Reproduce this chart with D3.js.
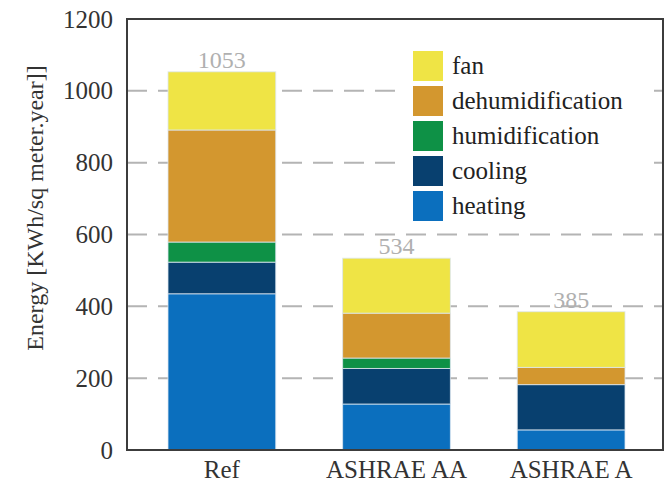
<!DOCTYPE html>
<html>
<head>
<meta charset="utf-8">
<script src="https://cdn.jsdelivr.net/npm/d3@7"></script>
<style>
  html, body { margin: 0; padding: 0; background: #fff; }
  svg text { font-family: "Liberation Serif", "Times New Roman", "DejaVu Serif", serif; }
</style>
</head>
<body>
<svg id="chart" width="672" height="488"></svg>
<script>
// ---- data ----
const categories = ["Ref", "ASHRAE AA", "ASHRAE A"];
const seriesNames = ["heating", "cooling", "humidification", "dehumidification", "fan"];
const heating = [435, 128, 56];
const cooling = [88, 99, 126];
const humidification = [56, 29, 0];
const dehumidification = [312, 125, 48];
const fan = [162, 153, 155];
const totals = [1053, 534, 385];
const yTicks = [0, 200, 400, 600, 800, 1000, 1200];
const legendOrder = ["fan", "dehumidification", "humidification", "cooling", "heating"];

const colors = {
  heating: "#0b6fbe",
  cooling: "#08406f",
  humidification: "#0e9146",
  dehumidification: "#d3972f",
  fan: "#efe445"
};

const seriesValues = { heating, cooling, humidification, dehumidification, fan };
const rows = categories.map((c, i) => {
  const r = { category: c };
  seriesNames.forEach(s => r[s] = seriesValues[s][i]);
  return r;
});

const FONT = "'Liberation Serif', 'Times New Roman', 'DejaVu Serif', serif";

// ---- layout ----
const svg = d3.select("#chart");
const plot = { left: 127, right: 663, top: 19, bottom: 450 };

const x = d3.scaleBand()
  .domain(categories)
  .range([168, 625])
  .paddingInner(0.383)
  .paddingOuter(0);

const y = d3.scaleLinear()
  .domain([0, 1200])
  .range([plot.bottom, plot.top]);

// gridlines
svg.append("g")
  .selectAll("line")
  .data(yTicks.filter(t => t > 0 && t < 1200))
  .join("line")
  .attr("x1", plot.left)
  .attr("x2", plot.right)
  .attr("y1", d => y(d))
  .attr("y2", d => y(d))
  .attr("stroke", "#b4b4b4")
  .attr("stroke-width", 2)
  .attr("stroke-dasharray", "20,11");

// stacked bars
const stack = d3.stack().keys(seriesNames)(rows);
svg.append("g")
  .selectAll("g")
  .data(stack)
  .join("g")
  .attr("fill", d => colors[d.key])
  .selectAll("rect")
  .data(d => d.filter(p => p[1] - p[0] > 0))
  .join("rect")
  .attr("x", d => x(d.data.category))
  .attr("width", x.bandwidth())
  .attr("y", d => y(d[1]))
  .attr("height", d => y(d[0]) - y(d[1]))
  .attr("stroke", "rgba(220,230,240,0.8)")
  .attr("stroke-width", 1);

// total labels
svg.append("g")
  .selectAll("text")
  .data(categories)
  .join("text")
  .attr("x", d => x(d) + x.bandwidth() / 2)
  .attr("y", (d, i) => y(totals[i]) - 4)
  .attr("text-anchor", "middle")
  .style("font-family", FONT)
  .attr("font-size", 24)
  .attr("fill", "#b0b0b0")
  .text((d, i) => totals[i]);

// frame
svg.append("rect")
  .attr("x", plot.left)
  .attr("y", plot.top)
  .attr("width", plot.right - plot.left)
  .attr("height", plot.bottom - plot.top)
  .attr("fill", "none")
  .attr("stroke", "#3c3c3c")
  .attr("stroke-width", 2);

// y axis labels
const yAxis = d3.axisLeft(y).tickValues(yTicks).tickFormat(d3.format("d")).tickSize(0).tickPadding(14);
const yg = svg.append("g").attr("transform", `translate(${plot.left},0)`).call(yAxis);
yg.attr("font-family", null);
yg.select(".domain").remove();
yg.selectAll("text")
  .style("font-family", FONT)
  .attr("font-size", 25)
  .attr("fill", "#333");

// x axis labels
const xAxis = d3.axisBottom(x).tickSize(0).tickPadding(10);
const xg = svg.append("g").attr("transform", `translate(0,${plot.bottom})`).call(xAxis);
xg.attr("font-family", null);
xg.select(".domain").remove();
xg.selectAll("text")
  .style("font-family", FONT)
  .attr("font-size", 25)
  .attr("fill", "#333");

// y title
svg.append("text")
  .attr("transform", "translate(43,208) rotate(-90)")
  .attr("text-anchor", "middle")
  .style("font-family", FONT)
  .attr("font-size", 24)
  .attr("fill", "#333")
  .text("Energy [KWh/sq meter.year]]");

// legend
const lg = svg.append("g");
lg.append("rect")
  .attr("x", 405).attr("y", 43)
  .attr("width", 240).attr("height", 182)
  .attr("fill", "#fff");
const item = lg.selectAll("g.item")
  .data(legendOrder)
  .join("g")
  .attr("class", "item")
  .attr("transform", (d, i) => `translate(413,${51 + i * 35})`);
item.append("rect")
  .attr("width", 30).attr("height", 30)
  .attr("fill", d => colors[d]);
item.append("text")
  .attr("x", 39)
  .attr("y", 23)
  .style("font-family", FONT)
  .attr("font-size", 25)
  .attr("fill", "#222")
  .text(d => d);
</script>
</body>
</html>
